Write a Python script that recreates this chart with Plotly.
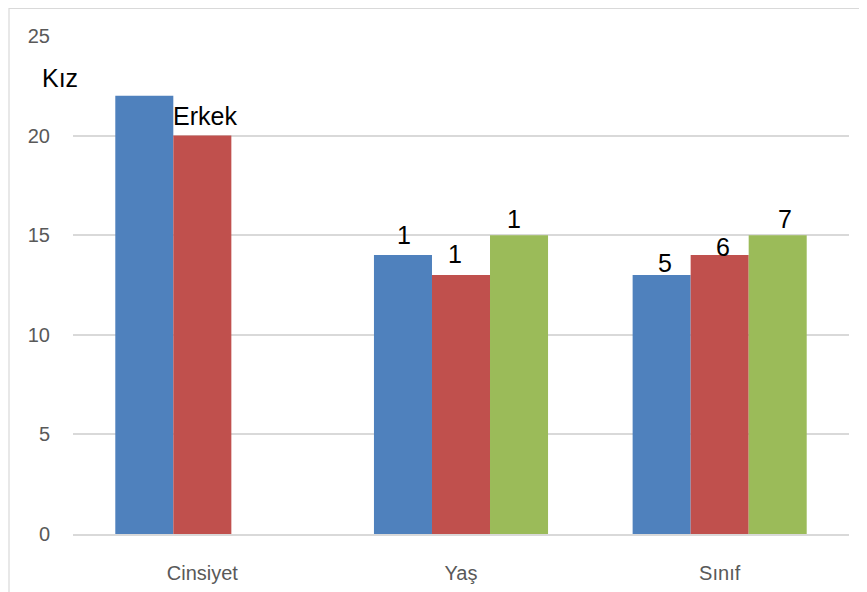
import plotly.graph_objects as go

categories = ["Cinsiyet", "Yaş", "Sınıf"]
series_names = ["Mavi", "Kırmızı", "Yeşil"]
blue_values = [22, 14, 13]
red_values = [20, 13, 14]
green_values = [None, 15, 15]
blue_labels = ["Kız", "1", "5"]
red_labels = ["Erkek", "1", "6"]
green_labels = [None, "1", "7"]
y_ticks = [0, 5, 10, 15, 20, 25]

colors = ["#4F81BD", "#C0504D", "#9BBB59"]
# per-series horizontal offset of label (px) relative to category centre
series_dx = [-58, 0, 58]
# small per-label nudges (px): (series index, category index) -> (dx, dy)
nudges = {(0, 0): (-84, 0), (1, 0): (3, 2), (0, 1): (1, 2), (1, 1): (-6, 3),
          (2, 1): (-5, -2), (0, 2): (3, -6), (1, 2): (3, -10), (2, 2): (7, -2)}

font_family = "Liberation Sans, Arial, sans-serif"

fig = go.Figure()
all_vals = [blue_values, red_values, green_values]
all_labels = [blue_labels, red_labels, green_labels]
for i, (name, vals) in enumerate(zip(series_names, all_vals)):
    fig.add_trace(go.Bar(x=categories, y=vals, name=name,
                         marker=dict(color=colors[i], line=dict(width=0))))

annotations = []
for s, (vals, labs) in enumerate(zip(all_vals, all_labels)):
    for c, (v, lab) in enumerate(zip(vals, labs)):
        if v is None or lab is None:
            continue
        ndx, ndy = nudges.get((s, c), (0, 0))
        annotations.append(dict(x=categories[c], y=v, xref="x", yref="y",
                                text=lab, showarrow=False, yanchor="bottom",
                                xanchor="center",
                                xshift=series_dx[s] + ndx, yshift=2 + ndy,
                                font=dict(family=font_family, size=25, color="#000000")))

# page body has an 8px default margin, so the figure is offset by 8px
fig.update_layout(
    width=867, height=592,
    margin=dict(l=65, r=26, t=28, b=66),
    paper_bgcolor="white", plot_bgcolor="white",
    barmode="group", bargap=0.327, bargroupgap=0,
    showlegend=False,
    annotations=annotations,
    font=dict(family=font_family, color="#595959", size=20),
    shapes=[dict(type="rect", xref="paper", yref="paper",
                 x0=-64 / 776, x1=1.2, y0=-0.3, y1=1 + 27.5 / 498,
                 line=dict(color="#D9D9D9", width=1.2), fillcolor="rgba(0,0,0,0)",
                 layer="below")],
)
fig.update_yaxes(range=[0, 25], tickvals=y_ticks, showgrid=True,
                 gridcolor="#D9D9D9", gridwidth=1.5, zeroline=False,
                 showline=False, ticks="", ticklabelstandoff=22,
                 tickfont=dict(size=20, color="#595959"))
fig.update_xaxes(range=[-0.5, len(categories) - 0.5], showline=True,
                 linecolor="#D9D9D9", linewidth=1.5,
                 ticks="", ticklabelstandoff=20,
                 tickfont=dict(size=20, color="#595959"))

fig.write_html("out.html")
